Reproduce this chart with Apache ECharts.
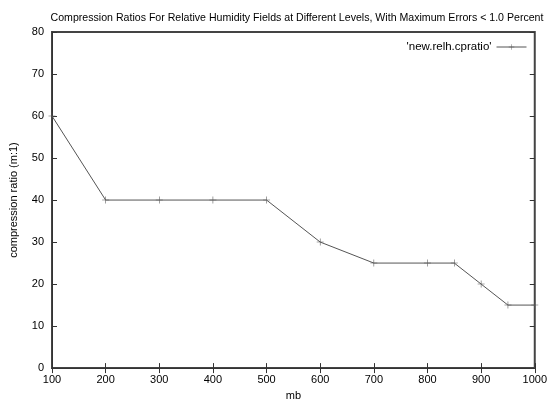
<!DOCTYPE html>
<html>
<head>
  <meta charset="UTF-8">
  <title>Compression Ratios</title>
  <style>
    html, body { padding: 0; margin: 0; background: #fff; }
    #myChart { width: 550px; height: 406px; }
  </style>
</head>
<body>
  <div id="myChart"></div>
  <script src="https://cdn.jsdelivr.net/npm/echarts@6/dist/echarts.min.js"></script>
  <script>
    const myChart = echarts.init(document.getElementById('myChart'));
    // pressure levels (mb) and compression ratios
    const levels = [100, 200, 300, 400, 500, 600, 700, 800, 850, 900, 950, 1000];
    const ratios = [60, 40, 40, 40, 40, 30, 25, 25, 25, 20, 15, 15];
    const seriesName = "'new.relh.cpratio'";
    const font = 'Liberation Sans';
    const axisColor = '#333';
    const plus = 'path://M4.6,0H5.4V4.6H10V5.4H5.4V10H4.6V5.4H0V4.6H4.6Z';

    // mirror axes on top / right: inward ticks only, the frame comes from the grid border
    const mirrorAxis = (pos, min, max, interval) => ({
      type: 'value', position: pos, min, max, interval,
      axisLine: { show: false },
      axisTick: { show: true, inside: true, length: 5, lineStyle: { color: axisColor } },
      axisLabel: { show: false },
      splitLine: { show: false }
    });

    const option = {
      animation: false,
      backgroundColor: '#fff',
      title: {
        text: 'Compression Ratios For Relative Humidity Fields at Different Levels, With Maximum Errors < 1.0 Percent',
        left: 292, top: 8, textAlign: 'center',
        textStyle: { fontFamily: font, fontSize: 10.6, fontWeight: 'normal', color: '#000' }
      },
      legend: {
        right: 18, top: 36,
        align: 'right',
        itemWidth: 30, itemHeight: 7,
        lineStyle: { width: 1 },
        textStyle: { fontFamily: font, fontSize: 11.5, color: '#000' },
        data: [seriesName]
      },
      grid: {
        left: 51, right: 12, top: 32, bottom: 37,
        show: true, borderColor: '#444', borderWidth: 2
      },
      xAxis: [{
        type: 'value', min: 100, max: 1000, interval: 100,
        name: 'mb', nameLocation: 'middle', nameGap: 20,
        nameTextStyle: { fontFamily: font, fontSize: 11, color: '#000' },
        axisLine: { onZero: false, lineStyle: { color: axisColor } },
        axisTick: { inside: true, length: 5, lineStyle: { color: axisColor } },
        axisLabel: { fontFamily: font, fontSize: 11, color: '#000', margin: 6, formatter: v => String(v) },
        splitLine: { show: false }
      }, mirrorAxis('top', 100, 1000, 100)],
      yAxis: [{
        type: 'value', min: 0, max: 80, interval: 10,
        name: 'compression ratio (m:1)', nameLocation: 'middle', nameGap: 33,
        nameTextStyle: { fontFamily: font, fontSize: 11, color: '#000' },
        axisLine: { show: true, onZero: false, lineStyle: { color: axisColor } },
        axisTick: { inside: true, length: 5, lineStyle: { color: axisColor } },
        axisLabel: { fontFamily: font, fontSize: 11, color: '#000', margin: 8 },
        splitLine: { show: false }
      }, mirrorAxis('right', 0, 80, 10)],
      series: [{
        name: seriesName,
        type: 'line',
        data: levels.map((x, i) => [x, ratios[i]]),
        symbol: plus,
        symbolSize: 7,
        showAllSymbol: true,
        lineStyle: { color: '#555', width: 1 },
        itemStyle: { color: '#555' }
      }]
    };
    myChart.setOption(option);
  </script>
</body>
</html>
